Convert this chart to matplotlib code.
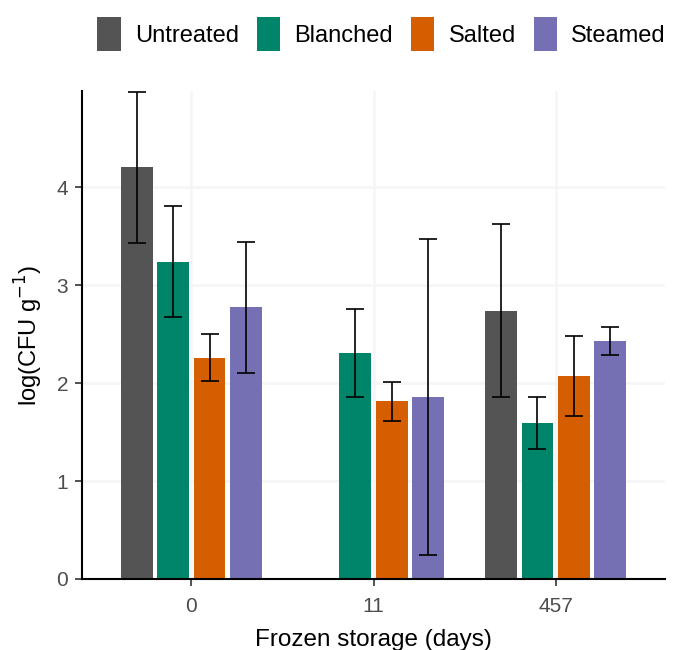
import numpy as np
import matplotlib.pyplot as plt
from matplotlib.patches import Patch

plt.rcParams['font.family'] = ['Liberation Sans', 'DejaVu Sans']

days = ['0', '11', '457']
treatments = ['Untreated', 'Blanched', 'Salted', 'Steamed']
colors = ['#545454', '#00856A', '#D55E00', '#7570B3']

# mean, lower, upper per treatment (nan = missing)
untreated = [4.20, np.nan, 2.73]
untreated_lo = [3.43, np.nan, 1.86]
untreated_hi = [4.97, np.nan, 3.62]
blanched = [3.23, 2.31, 1.59]
blanched_lo = [2.67, 1.86, 1.33]
blanched_hi = [3.81, 2.76, 1.86]
salted = [2.26, 1.82, 2.07]
salted_lo = [2.02, 1.61, 1.66]
salted_hi = [2.50, 2.01, 2.48]
steamed = [2.78, 1.86, 2.43]
steamed_lo = [2.10, 0.25, 2.29]
steamed_hi = [3.44, 3.47, 2.57]

means = [untreated, blanched, salted, steamed]
lows = [untreated_lo, blanched_lo, salted_lo, steamed_lo]
highs = [untreated_hi, blanched_hi, salted_hi, steamed_hi]

fig = plt.figure(figsize=(6.73, 6.5), dpi=100)
ax = fig.add_axes([82/673, 71/650, (665-82)/673, (579-91)/650])

x = np.arange(1, len(days) + 1)
slot = 0.2
for k, t in enumerate(treatments):
    m = np.array(means[k])
    lo = np.array(lows[k])
    hi = np.array(highs[k])
    pos = x + (k - 1.5) * slot
    ok = ~np.isnan(m)
    ax.bar(pos[ok], m[ok], width=0.175, color=colors[k], zorder=2)
    ax.errorbar(pos[ok], m[ok], yerr=[m[ok] - lo[ok], hi[ok] - m[ok]],
                fmt='none', ecolor='black', elinewidth=1.2, capsize=6.5,
                capthick=1.2, zorder=3)

ax.set_xlim(0.4, 3.6)
ax.set_ylim(0, 4.98)
ax.set_xticks(x)
ax.set_xticklabels(days)
ax.set_yticks([0, 1, 2, 3, 4])
ax.grid(True, color='#F5F5F5', linewidth=1.8, zorder=0)
ax.set_axisbelow(True)
for s in ['top', 'right']:
    ax.spines[s].set_visible(False)
for s in ['left', 'bottom']:
    ax.spines[s].set_linewidth(1.5)
    ax.spines[s].set_color('black')
ax.tick_params(axis='both', labelsize=15, labelcolor='#4D4D4D', color='#333333',
               length=5, width=1.2)
ax.tick_params(axis='x', pad=8)
ax.tick_params(axis='y', pad=5)
ax.set_xlabel('Frozen storage (days)', fontsize=17.5, labelpad=9)
ax.set_ylabel('log(CFU g$^{-1}$)', fontsize=17, labelpad=8)

handles = [Patch(facecolor=c, label=t) for c, t in zip(colors, treatments)]
fig.legend(handles=handles, loc='upper center', bbox_to_anchor=(0.567, 1.0),
           ncol=4, frameon=False, fontsize=17, handlelength=1.0,
           handleheight=1.9, handletextpad=0.6, columnspacing=0.75,
           borderaxespad=0.3)

fig.savefig('out.png', dpi=100)
